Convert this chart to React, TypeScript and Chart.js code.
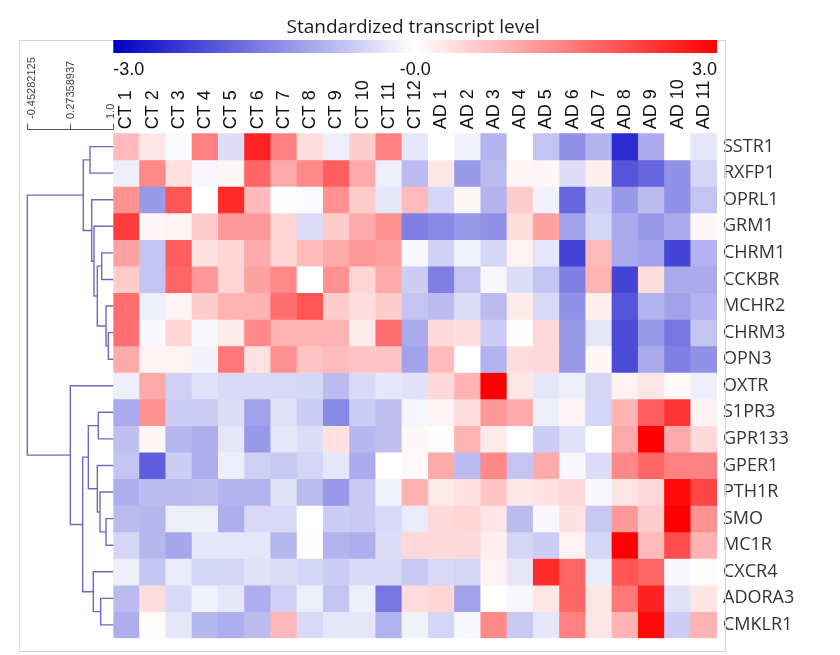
import React, { useEffect, useRef } from 'react';
import { Chart, registerables } from 'chart.js';

Chart.register(...registerables);

// ---------- data ----------
const columns = [
  'CT 1', 'CT 2', 'CT 3', 'CT 4', 'CT 5', 'CT 6', 'CT 7', 'CT 8', 'CT 9', 'CT 10', 'CT 11', 'CT 12',
  'AD 1', 'AD 2', 'AD 3', 'AD 4', 'AD 5', 'AD 6', 'AD 7', 'AD 8', 'AD 9', 'AD 10', 'AD 11',
];

const genes = [
  'SSTR1', 'RXFP1', 'OPRL1', 'GRM1', 'CHRM1', 'CCKBR', 'MCHR2', 'CHRM3', 'OPN3',
  'OXTR', 'S1PR3', 'GPR133', 'GPER1', 'PTH1R', 'SMO', 'MC1R', 'CXCR4', 'ADORA3', 'CMKLR1',
];

const SSTR1 = [0.8, 0.3, -0.05, 1.5, -0.4, 2.6, 1.5, 0.4, -0.2, 0.6, 1.5, -0.3, 0.0, -0.15, -0.9, 0.0, -0.7, -1.3, -0.9, -2.5, -1.0, 0.0, -0.3];
const RXFP1 = [-0.2, 1.4, 0.35, -0.1, 0.1, 1.8, 1.0, 1.4, 1.9, 1.0, -0.2, -0.8, 0.3, -1.2, -0.8, 0.1, 0.1, -0.4, 0.2, -2.0, -1.8, -1.3, -0.5];
const OPRL1 = [1.3, -1.2, 2.0, 0.0, 2.5, 0.8, 0.02, -0.05, 1.3, 0.6, -0.3, 0.8, -0.5, 0.1, -0.9, 0.6, -0.15, -1.8, -0.6, -1.2, -0.8, -1.3, -0.7];
const GRM1 = [2.3, 0.1, 0.15, 0.6, 1.2, 1.2, 0.5, -0.4, 0.6, 1.0, 1.3, -1.5, -1.4, -1.2, -1.3, 0.4, 1.1, -1.1, -0.5, -1.0, -1.2, -1.0, 0.1];
const CHRM1 = [1.1, -0.7, 1.9, 0.35, 0.5, 1.0, 0.5, 0.8, 1.0, 1.2, 1.1, -0.1, -0.55, -0.15, -0.5, 0.15, -0.3, -2.2, 0.8, -1.0, -1.1, -2.2, -0.9];
const CCKBR = [0.6, -0.7, 1.8, 1.2, 0.5, 1.1, 1.4, 0.0, 1.3, 0.5, 1.0, -0.6, -1.5, -0.7, -0.1, -0.4, -0.7, -1.5, 0.9, -2.2, 0.4, -1.0, -1.0];
const MCHR2 = [1.7, -0.2, 0.15, 0.6, 0.9, 0.9, 1.7, 2.0, 0.6, 0.4, 0.6, -0.7, -0.8, -0.4, -0.8, 0.25, -0.45, -1.3, 0.2, -2.0, -0.9, -1.1, -0.9];
const CHRM3 = [1.7, -0.1, 0.5, -0.1, 0.25, 1.4, 0.9, 0.9, 0.9, 0.25, 1.7, -1.0, 0.45, 0.4, -0.6, 0.02, 0.45, -1.2, -0.3, -2.1, -1.2, -1.6, -0.7];
const OPN3 = [1.0, 0.15, 0.15, -0.15, 1.6, 0.35, 1.3, 0.7, 0.8, 0.7, 0.7, -1.1, 0.8, 0.0, -0.9, 0.4, 0.45, -1.2, 0.1, -2.1, -1.0, -1.5, -1.3];
const OXTR = [-0.2, 1.0, -0.55, -0.35, -0.45, -0.45, -0.45, -0.5, -0.8, -0.45, -0.3, -0.35, 0.45, 0.9, 3.0, 0.3, -0.3, -0.2, -0.5, 0.15, 0.3, 0.08, -0.2];
const S1PR3 = [-1.0, 1.3, -0.6, -0.6, -0.4, -1.1, -0.35, -0.6, -1.4, -0.6, -0.75, -0.12, 0.15, 0.4, 1.2, 1.0, -0.2, 0.15, -0.5, 0.9, 1.9, 2.4, 0.15];
const GPR133 = [-0.75, 0.12, -0.85, -0.95, -0.3, -1.2, -0.3, -0.4, 0.35, -0.85, -0.75, 0.1, 0.02, 0.9, 0.25, 0.0, -0.6, -0.35, 0.0, 1.0, 3.0, 1.0, 0.45];
const GPER1 = [-0.7, -1.9, -0.6, -0.95, -0.2, -0.55, -0.65, -0.5, -0.3, -1.0, 0.0, 0.08, 1.0, -0.8, 1.4, -0.7, 1.0, -0.1, -0.4, 1.4, 1.8, 1.5, 1.5];
const PTH1R = [-0.95, -0.8, -0.8, -0.75, -0.9, -0.9, -0.35, -0.8, -1.2, -0.65, -0.15, 0.9, 0.25, 0.35, 0.7, 0.3, 0.35, 0.45, -0.1, 0.3, 0.45, 2.9, 2.2];
const SMO = [-0.8, -0.85, -0.2, -0.2, -0.95, -0.45, -0.45, 0.0, -0.6, -0.65, -0.45, -0.25, 0.45, 0.5, 0.3, -0.8, -0.08, 0.35, -0.65, 1.2, 0.6, 3.0, 1.3];
const MC1R = [-0.5, -0.85, -1.05, -0.3, -0.3, -0.3, -0.85, 0.02, -0.9, -0.95, -0.4, 0.45, 0.45, 0.45, 0.2, -0.5, -0.6, 0.15, -0.5, 3.0, 0.8, 2.1, 0.9];
const CXCR4 = [-0.2, -0.7, -0.25, -0.5, -0.5, -0.35, -0.4, -0.5, -0.6, -0.45, -0.45, -0.65, -0.45, -0.5, 0.15, -0.3, 2.5, 1.8, -0.25, 2.0, 1.8, -0.1, 0.03];
const ADORA3 = [-0.8, 0.4, -0.45, -0.15, -0.3, -0.95, -0.55, -0.2, -0.7, -0.2, -1.6, 0.4, 0.5, -1.1, 0.0, -0.1, 0.3, 1.8, 0.3, 1.6, 2.6, -0.35, 0.3];
const CMKLR1 = [-0.95, 0.03, -0.3, -0.85, -0.95, -0.8, 0.85, -0.45, -0.3, -0.3, -0.9, -0.15, -0.5, -0.1, 1.4, -0.65, -0.3, 1.5, 0.3, 0.9, 2.9, -0.6, 0.9];

const rowValues = [
  SSTR1, RXFP1, OPRL1, GRM1, CHRM1, CCKBR, MCHR2, CHRM3, OPN3,
  OXTR, S1PR3, GPR133, GPER1, PTH1R, SMO, MC1R, CXCR4, ADORA3, CMKLR1,
];

const colorTicks = [-3, 0, 3];
const colorTickLabels = ['-3.0', '-0.0', '3.0'];

const dendroTicks = [-0.45282125, 0.27358937, 1.0];
const dendroTickLabels = ['-0.45282125', '0.27358937', '1.0'];

// row dendrogram merges: [childA, childB, height]; leaves 0..18, new nodes numbered from 19
const rowMerges: [number, number, number][] = [
  [0, 1, 0.606],     // 19
  [7, 8, 0.916],     // 20
  [6, 20, 0.877],    // 21
  [4, 5, 0.804],     // 22
  [22, 21, 0.73],    // 23
  [3, 23, 0.674],    // 24
  [2, 24, 0.635],    // 25
  [19, 25, 0.493],   // 26
  [14, 15, 0.877],   // 27
  [13, 27, 0.775],   // 28
  [12, 28, 0.73],    // 29
  [10, 11, 0.747],   // 30
  [30, 29, 0.578],   // 31
  [17, 18, 0.787],   // 32
  [16, 32, 0.662],   // 33
  [31, 33, 0.483],   // 34
  [9, 34, 0.27358937], // 35
  [26, 35, -0.45282125], // 36
];

const titleText = 'Standardized transcript level';

// ---------- styling helpers ----------
const BLUE = [0, 0, 200];
const RED = [255, 0, 0];

function heatColor(v: number): string {
  const t = Math.max(-1, Math.min(1, v / 3));
  const end = t < 0 ? BLUE : RED;
  const s = Math.abs(t);
  const r = Math.round(255 + (end[0] - 255) * s);
  const g = Math.round(255 + (end[1] - 255) * s);
  const b = Math.round(255 + (end[2] - 255) * s);
  return `rgb(${r},${g},${b})`;
}

const ARIAL = "'Liberation Sans', Arial, sans-serif";
const LABEL_FONT = "'Open Sans', 'Noto Sans', sans-serif";
const COL_FONT_SIZE = 18;
const COL_LINE_HEIGHT = 1.2;

const decorPlugin = {
  id: 'decor',
  afterDraw(chart: any) {
    const { ctx, chartArea: ca, scales } = chart;
    const yScale = scales.y;
    ctx.save();

    // frame
    ctx.strokeStyle = '#d4d4d4';
    ctx.lineWidth = 1;
    ctx.strokeRect(19.5, 40.5, 706, 611);

    // title
    ctx.fillStyle = '#1a1a1a';
    ctx.font = `19px ${LABEL_FONT}`;
    ctx.textAlign = 'center';
    ctx.textBaseline = 'alphabetic';
    ctx.fillText(titleText, (ca.left + ca.right) / 2 - 2, 33);

    // colour bar
    const cbTop = 40;
    const cbH = 13;
    const grad = ctx.createLinearGradient(ca.left, 0, ca.right, 0);
    grad.addColorStop(0, heatColor(colorTicks[0]));
    grad.addColorStop(0.5, heatColor(0));
    grad.addColorStop(1, heatColor(colorTicks[2]));
    ctx.fillStyle = grad;
    ctx.fillRect(ca.left, cbTop, ca.right - ca.left, cbH);

    ctx.fillStyle = '#111';
    ctx.font = `18px ${ARIAL}`;
    ctx.textBaseline = 'middle';
    colorTicks.forEach((t, i) => {
      const x = ca.left + ((t - colorTicks[0]) / (colorTicks[2] - colorTicks[0])) * (ca.right - ca.left);
      ctx.textAlign = i === 0 ? 'left' : i === colorTicks.length - 1 ? 'right' : 'center';
      ctx.fillText(colorTickLabels[i], x, 70);
    });

    // dendrogram
    const dLeft = 27.3;
    const dRight = ca.left;
    const vmin = dendroTicks[0];
    const vmax = dendroTicks[dendroTicks.length - 1];
    const vx = (v: number) => dLeft + ((v - vmin) / (vmax - vmin)) * (dRight - dLeft);

    const pos = genes.map((_, i) => ({ x: vx(1.0), y: yScale.getPixelForValue(i + 0.5) }));
    ctx.strokeStyle = 'rgba(80,80,185,0.85)';
    ctx.lineWidth = 1.4;
    ctx.beginPath();
    rowMerges.forEach(([a, b, h]) => {
      const A = pos[a];
      const B = pos[b];
      const nx = vx(h);
      ctx.moveTo(A.x, A.y);
      ctx.lineTo(nx, A.y);
      ctx.lineTo(nx, B.y);
      ctx.lineTo(B.x, B.y);
      pos.push({ x: nx, y: (A.y + B.y) / 2 });
    });
    ctx.stroke();

    // dendrogram scale
    const axY = 129.5;
    ctx.strokeStyle = '#555';
    ctx.lineWidth = 1;
    ctx.beginPath();
    ctx.moveTo(vx(vmin), axY);
    ctx.lineTo(vx(vmax), axY);
    dendroTicks.forEach((t) => {
      const x = Math.round(vx(t)) + 0.5;
      ctx.moveTo(x, axY);
      ctx.lineTo(x, axY - 6);
    });
    ctx.stroke();

    ctx.fillStyle = '#444';
    ctx.font = `11px ${ARIAL}`;
    ctx.textAlign = 'left';
    ctx.textBaseline = 'middle';
    const offs = [5, 1, -2];
    dendroTicks.forEach((t, i) => {
      ctx.save();
      ctx.translate(vx(t) + offs[i], 119);
      ctx.rotate(-Math.PI / 2);
      ctx.fillText(dendroTickLabels[i], 0, 0);
      ctx.restore();
    });

    ctx.restore();
  },
};

export default function App() {
  const ref = useRef<HTMLCanvasElement | null>(null);

  useEffect(() => {
    if (!ref.current) return;
    const chart = new Chart(ref.current, {
      type: 'bar',
      data: {
        labels: columns,
        datasets: rowValues.map((vals, i) => ({
          label: genes[i],
          data: vals.map(() => [i, i + 1]),
          backgroundColor: vals.map(heatColor),
          borderWidth: 0,
          barPercentage: 1,
          categoryPercentage: 1,
          grouped: false,
        })),
      } as any,
      options: {
        responsive: false,
        animation: false,
        layout: { padding: { left: 113.3, right: 0, top: 0, bottom: 15 } },
        plugins: {
          legend: { display: false },
          tooltip: { enabled: false },
        },
        scales: {
          x: {
            type: 'category',
            position: 'top',
            offset: true,
            grid: { display: false, drawTicks: false },
            border: { display: false },
            ticks: {
              minRotation: 90,
              maxRotation: 90,
              autoSkip: false,
              padding: 4,
              // Chart.js shifts rotated top labels by one line height; compensate
              labelOffset: COL_FONT_SIZE * COL_LINE_HEIGHT,
              color: '#111',
              font: { family: ARIAL, size: COL_FONT_SIZE, lineHeight: COL_LINE_HEIGHT },
            },
            afterFit: (s: any) => {
              s.height = 133.3;
            },
          },
          y: {
            type: 'linear',
            position: 'right',
            min: 0,
            max: genes.length,
            reverse: true,
            grid: { display: false, drawTicks: false },
            border: { display: false },
            afterBuildTicks: (s: any) => {
              s.ticks = genes.map((_, i) => ({ value: i + 0.5 }));
            },
            ticks: {
              autoSkip: false,
              padding: 6,
              color: '#333',
              font: { family: LABEL_FONT, size: 18 },
              callback: (_v: any, idx: number) => genes[idx],
            },
            afterFit: (s: any) => {
              s.width = 123;
            },
          },
        },
      } as any,
      plugins: [decorPlugin],
    });
    return () => chart.destroy();
  }, []);

  return (
    <div style={{ position: 'absolute', left: 0, top: 0, width: 840, height: 655, background: '#fff' }}>
      <canvas ref={ref} width={840} height={655} style={{ display: 'block' }} />
    </div>
  );
}
